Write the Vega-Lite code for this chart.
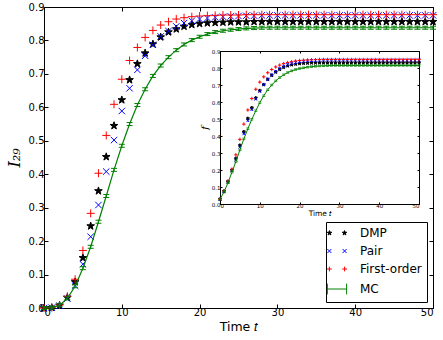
{
"$schema": "https://vega.github.io/schema/vega-lite/v6.json",
"width": 389, "height": 301,
"autosize": {"type": "none"},
"padding": {"left": 44, "top": 7, "right": 10, "bottom": 32},
"datasets": {
"main": [
{"t":0,"DMP":0,"Pair":0,"First-order":0,"MC":0},
{"t":1,"DMP":0.001,"Pair":0.001,"First-order":0.001,"MC":0.001},
{"t":2,"DMP":0.008,"Pair":0.007,"First-order":0.009,"MC":0.008},
{"t":3,"DMP":0.031,"Pair":0.028,"First-order":0.035,"MC":0.029},
{"t":4,"DMP":0.078,"Pair":0.067,"First-order":0.086,"MC":0.065},
{"t":5,"DMP":0.150,"Pair":0.131,"First-order":0.172,"MC":0.119},
{"t":6,"DMP":0.245,"Pair":0.213,"First-order":0.283,"MC":0.183},
{"t":7,"DMP":0.350,"Pair":0.308,"First-order":0.403,"MC":0.258},
{"t":8,"DMP":0.452,"Pair":0.408,"First-order":0.516,"MC":0.335},
{"t":9,"DMP":0.545,"Pair":0.502,"First-order":0.609,"MC":0.413},
{"t":10,"DMP":0.622,"Pair":0.589,"First-order":0.684,"MC":0.485},
{"t":11,"DMP":0.682,"Pair":0.657,"First-order":0.740,"MC":0.550},
{"t":12,"DMP":0.730,"Pair":0.712,"First-order":0.779,"MC":0.607},
{"t":13,"DMP":0.762,"Pair":0.754,"First-order":0.809,"MC":0.654},
{"t":14,"DMP":0.789,"Pair":0.787,"First-order":0.830,"MC":0.694},
{"t":15,"DMP":0.810,"Pair":0.812,"First-order":0.846,"MC":0.725},
{"t":16,"DMP":0.825,"Pair":0.828,"First-order":0.856,"MC":0.750},
{"t":17,"DMP":0.834,"Pair":0.842,"First-order":0.864,"MC":0.771},
{"t":18,"DMP":0.842,"Pair":0.852,"First-order":0.868,"MC":0.788},
{"t":19,"DMP":0.847,"Pair":0.859,"First-order":0.871,"MC":0.801},
{"t":20,"DMP":0.850,"Pair":0.864,"First-order":0.873,"MC":0.811},
{"t":21,"DMP":0.852,"Pair":0.867,"First-order":0.874,"MC":0.819},
{"t":22,"DMP":0.853,"Pair":0.869,"First-order":0.875,"MC":0.825},
{"t":23,"DMP":0.854,"Pair":0.871,"First-order":0.876,"MC":0.829},
{"t":24,"DMP":0.855,"Pair":0.872,"First-order":0.876,"MC":0.832},
{"t":25,"DMP":0.855,"Pair":0.873,"First-order":0.876,"MC":0.834},
{"t":26,"DMP":0.855,"Pair":0.874,"First-order":0.877,"MC":0.836},
{"t":27,"DMP":0.856,"Pair":0.874,"First-order":0.877,"MC":0.837},
{"t":28,"DMP":0.856,"Pair":0.875,"First-order":0.877,"MC":0.838},
{"t":29,"DMP":0.856,"Pair":0.875,"First-order":0.877,"MC":0.838},
{"t":30,"DMP":0.856,"Pair":0.875,"First-order":0.877,"MC":0.838},
{"t":31,"DMP":0.856,"Pair":0.875,"First-order":0.877,"MC":0.838},
{"t":32,"DMP":0.856,"Pair":0.875,"First-order":0.877,"MC":0.838},
{"t":33,"DMP":0.856,"Pair":0.875,"First-order":0.877,"MC":0.838},
{"t":34,"DMP":0.856,"Pair":0.875,"First-order":0.877,"MC":0.838},
{"t":35,"DMP":0.856,"Pair":0.875,"First-order":0.877,"MC":0.838},
{"t":36,"DMP":0.856,"Pair":0.875,"First-order":0.877,"MC":0.838},
{"t":37,"DMP":0.856,"Pair":0.875,"First-order":0.877,"MC":0.838},
{"t":38,"DMP":0.856,"Pair":0.875,"First-order":0.877,"MC":0.838},
{"t":39,"DMP":0.856,"Pair":0.875,"First-order":0.877,"MC":0.838},
{"t":40,"DMP":0.856,"Pair":0.875,"First-order":0.877,"MC":0.838},
{"t":41,"DMP":0.856,"Pair":0.875,"First-order":0.877,"MC":0.838},
{"t":42,"DMP":0.856,"Pair":0.875,"First-order":0.877,"MC":0.838},
{"t":43,"DMP":0.856,"Pair":0.875,"First-order":0.877,"MC":0.838},
{"t":44,"DMP":0.856,"Pair":0.875,"First-order":0.877,"MC":0.838},
{"t":45,"DMP":0.856,"Pair":0.875,"First-order":0.877,"MC":0.838},
{"t":46,"DMP":0.856,"Pair":0.875,"First-order":0.877,"MC":0.838},
{"t":47,"DMP":0.856,"Pair":0.875,"First-order":0.877,"MC":0.838},
{"t":48,"DMP":0.856,"Pair":0.875,"First-order":0.877,"MC":0.838},
{"t":49,"DMP":0.856,"Pair":0.875,"First-order":0.877,"MC":0.838},
{"t":50,"DMP":0.856,"Pair":0.875,"First-order":0.877,"MC":0.838}
],
"inset": [
{"t":0,"DMP":0.028,"Pair":0.028,"First-order":0.030,"MC":0.028},
{"t":1,"DMP":0.075,"Pair":0.074,"First-order":0.077,"MC":0.070},
{"t":2,"DMP":0.131,"Pair":0.130,"First-order":0.136,"MC":0.125},
{"t":3,"DMP":0.198,"Pair":0.195,"First-order":0.205,"MC":0.187},
{"t":4,"DMP":0.268,"Pair":0.258,"First-order":0.289,"MC":0.250},
{"t":5,"DMP":0.345,"Pair":0.335,"First-order":0.380,"MC":0.318},
{"t":6,"DMP":0.425,"Pair":0.413,"First-order":0.470,"MC":0.383},
{"t":7,"DMP":0.503,"Pair":0.490,"First-order":0.553,"MC":0.443},
{"t":8,"DMP":0.566,"Pair":0.555,"First-order":0.620,"MC":0.498},
{"t":9,"DMP":0.624,"Pair":0.617,"First-order":0.675,"MC":0.549},
{"t":10,"DMP":0.667,"Pair":0.662,"First-order":0.717,"MC":0.596},
{"t":11,"DMP":0.702,"Pair":0.702,"First-order":0.748,"MC":0.637},
{"t":12,"DMP":0.733,"Pair":0.735,"First-order":0.772,"MC":0.672},
{"t":13,"DMP":0.757,"Pair":0.760,"First-order":0.791,"MC":0.700},
{"t":14,"DMP":0.776,"Pair":0.780,"First-order":0.806,"MC":0.724},
{"t":15,"DMP":0.792,"Pair":0.797,"First-order":0.817,"MC":0.744},
{"t":16,"DMP":0.804,"Pair":0.810,"First-order":0.826,"MC":0.760},
{"t":17,"DMP":0.813,"Pair":0.821,"First-order":0.832,"MC":0.773},
{"t":18,"DMP":0.819,"Pair":0.828,"First-order":0.837,"MC":0.783},
{"t":19,"DMP":0.823,"Pair":0.833,"First-order":0.841,"MC":0.791},
{"t":20,"DMP":0.826,"Pair":0.837,"First-order":0.844,"MC":0.797},
{"t":21,"DMP":0.828,"Pair":0.840,"First-order":0.846,"MC":0.801},
{"t":22,"DMP":0.829,"Pair":0.842,"First-order":0.847,"MC":0.805},
{"t":23,"DMP":0.830,"Pair":0.844,"First-order":0.848,"MC":0.808},
{"t":24,"DMP":0.830,"Pair":0.845,"First-order":0.849,"MC":0.810},
{"t":25,"DMP":0.831,"Pair":0.846,"First-order":0.850,"MC":0.812},
{"t":26,"DMP":0.831,"Pair":0.847,"First-order":0.850,"MC":0.813},
{"t":27,"DMP":0.831,"Pair":0.847,"First-order":0.850,"MC":0.814},
{"t":28,"DMP":0.831,"Pair":0.847,"First-order":0.850,"MC":0.815},
{"t":29,"DMP":0.831,"Pair":0.847,"First-order":0.850,"MC":0.815},
{"t":30,"DMP":0.831,"Pair":0.847,"First-order":0.850,"MC":0.815},
{"t":31,"DMP":0.831,"Pair":0.847,"First-order":0.850,"MC":0.815},
{"t":32,"DMP":0.831,"Pair":0.847,"First-order":0.850,"MC":0.815},
{"t":33,"DMP":0.831,"Pair":0.847,"First-order":0.850,"MC":0.815},
{"t":34,"DMP":0.831,"Pair":0.847,"First-order":0.850,"MC":0.815},
{"t":35,"DMP":0.831,"Pair":0.847,"First-order":0.850,"MC":0.815},
{"t":36,"DMP":0.831,"Pair":0.847,"First-order":0.850,"MC":0.815},
{"t":37,"DMP":0.831,"Pair":0.847,"First-order":0.850,"MC":0.815},
{"t":38,"DMP":0.831,"Pair":0.847,"First-order":0.850,"MC":0.815},
{"t":39,"DMP":0.831,"Pair":0.847,"First-order":0.850,"MC":0.815},
{"t":40,"DMP":0.831,"Pair":0.847,"First-order":0.850,"MC":0.815},
{"t":41,"DMP":0.831,"Pair":0.847,"First-order":0.850,"MC":0.815},
{"t":42,"DMP":0.831,"Pair":0.847,"First-order":0.850,"MC":0.815},
{"t":43,"DMP":0.831,"Pair":0.847,"First-order":0.850,"MC":0.815},
{"t":44,"DMP":0.831,"Pair":0.847,"First-order":0.850,"MC":0.815},
{"t":45,"DMP":0.831,"Pair":0.847,"First-order":0.850,"MC":0.815},
{"t":46,"DMP":0.831,"Pair":0.847,"First-order":0.850,"MC":0.815},
{"t":47,"DMP":0.831,"Pair":0.847,"First-order":0.850,"MC":0.815},
{"t":48,"DMP":0.831,"Pair":0.847,"First-order":0.850,"MC":0.815},
{"t":49,"DMP":0.831,"Pair":0.847,"First-order":0.850,"MC":0.815},
{"t":50,"DMP":0.831,"Pair":0.847,"First-order":0.850,"MC":0.815}
]
},
"layer": [
{
"data": {"name": "main"},
"layer": [
{
"transform": [{"fold": ["DMP","Pair","First-order"], "as": ["series","value"]}],
"mark": {"type": "point", "filled": false, "size": 64, "strokeWidth": 1, "opacity": 1},
"encoding": {
"x": {"field": "t", "type": "quantitative", "scale": {"domain": [0,50], "nice": false},
"axis": {"orient": "bottom", "values": [0,10,20,30,40,50], "title": "Time 𝑡", "labelFontSize": 10, "titleFontSize": 12.5, "tickSize": -4, "labelPadding": 3, "titlePadding": 3, "domain": false}},
"y": {"field": "value", "type": "quantitative", "scale": {"domain": [0,0.9], "nice": false},
"axis": {"orient": "left", "values": [0,0.1,0.2,0.3,0.4,0.5,0.6,0.7,0.8,0.9], "format": ".1f", "title": "I₂₉", "titleFont": "DejaVu Serif", "titleFontStyle": "italic", "titleFontSize": 16, "labelFontSize": 10, "tickSize": -4, "labelPadding": 4, "titlePadding": 6, "domain": false}},
"color": {"field": "series", "type": "nominal",
"scale": {"domain": ["DMP","Pair","First-order","MC"], "range": ["#000000","#0000ff","#ff0000","#008000"]},
"legend": null},
"shape": {"field": "series", "type": "nominal",
"scale": {"domain": ["DMP","Pair","First-order"], "range": ["M0,-1L0.235,-0.324L0.951,-0.309L0.38,0.124L0.588,0.809L0,0.4L-0.588,0.809L-0.38,0.124L-0.951,-0.309L-0.235,-0.324Z","M-0.8,-0.8L0.8,0.8M-0.8,0.8L0.8,-0.8","M-1,0H1M0,-1V1"]},
"legend": null},
"fill": {"condition": {"test": "datum.series==='DMP'", "value": "#000000"}, "value": "transparent"}
}
},
{
"mark": {"type": "line", "strokeWidth": 1.2, "stroke": "#008000"},
"encoding": {
"x": {"field": "t", "type": "quantitative", "scale": {"domain": [0,50], "nice": false},
"axis": {"orient": "top", "values": [0,10,20,30,40,50], "labels": false, "title": null, "tickSize": -4, "domain": false}},
"y": {"field": "MC", "type": "quantitative", "scale": {"domain": [0,0.9], "nice": false},
"axis": {"orient": "right", "values": [0,0.1,0.2,0.3,0.4,0.5,0.6,0.7,0.8,0.9], "labels": false, "title": null, "tickSize": -4, "domain": false}}
}
},
{
"mark": {"type": "point", "shape": "M-1,-0.5H1M-1,0.5H1M0,-0.5V0.5", "size": 36, "filled": false, "stroke": "#008000", "strokeWidth": 1, "opacity": 1},
"encoding": {
"x": {"field": "t", "type": "quantitative", "scale": {"domain": [0,50], "nice": false}, "axis": null},
"y": {"field": "MC", "type": "quantitative", "scale": {"domain": [0,0.9], "nice": false}, "axis": null}
}
}
],
"resolve": {"axis": {"x": "independent", "y": "independent"}}
},
{
"data": {"name": "inset"},
"layer": [
{
"transform": [{"fold": ["DMP","Pair","First-order"], "as": ["series","value"]}],
"mark": {"type": "point", "filled": false, "size": 12, "strokeWidth": 1, "opacity": 1},
"encoding": {
"x": {"field": "t", "type": "quantitative", "scale": {"domain": [0,50], "nice": false, "range": [176,375]},
"axis": {"orient": "bottom", "offset": -104, "values": [0,10,20,30,40,50], "title": "Time 𝑡", "labelFontSize": 5.5, "titleFontSize": 7.5, "tickSize": -2, "labelPadding": 1, "titlePadding": 1, "domain": true, "domainColor": "#000000"}},
"y": {"field": "value", "type": "quantitative", "scale": {"domain": [0,0.9], "nice": false, "range": [197,44]},
"axis": {"orient": "left", "offset": -176, "values": [0,0.1,0.2,0.3,0.4,0.5,0.6,0.7,0.8,0.9], "format": ".1f", "title": "f", "titleFont": "DejaVu Serif", "titleFontStyle": "italic", "titleFontSize": 10, "labelFontSize": 5.5, "tickSize": -2, "labelPadding": 2, "titlePadding": 2, "domain": true, "domainColor": "#000000"}},
"color": {"field": "series", "type": "nominal",
"scale": {"domain": ["DMP","Pair","First-order","MC"], "range": ["#000000","#0000ff","#ff0000","#008000"]},
"legend": null},
"shape": {"field": "series", "type": "nominal",
"scale": {"domain": ["DMP","Pair","First-order"], "range": ["M0,-1L0.235,-0.324L0.951,-0.309L0.38,0.124L0.588,0.809L0,0.4L-0.588,0.809L-0.38,0.124L-0.951,-0.309L-0.235,-0.324Z","M-0.8,-0.8L0.8,0.8M-0.8,0.8L0.8,-0.8","M-1,0H1M0,-1V1"]},
"legend": null},
"fill": {"condition": {"test": "datum.series==='DMP'", "value": "#000000"}, "value": "transparent"}
}
},
{
"mark": {"type": "line", "strokeWidth": 1, "stroke": "#008000"},
"encoding": {
"x": {"field": "t", "type": "quantitative", "scale": {"domain": [0,50], "nice": false, "range": [176,375]},
"axis": {"orient": "top", "offset": -44, "values": [0,10,20,30,40,50], "labels": false, "title": null, "tickSize": -2, "domain": true, "domainColor": "#000000"}},
"y": {"field": "MC", "type": "quantitative", "scale": {"domain": [0,0.9], "nice": false, "range": [197,44]},
"axis": {"orient": "right", "offset": -14, "values": [0,0.1,0.2,0.3,0.4,0.5,0.6,0.7,0.8,0.9], "labels": false, "title": null, "tickSize": -2, "domain": true, "domainColor": "#000000"}}
}
},
{
"mark": {"type": "point", "shape": "M-1,-0.5H1M-1,0.5H1", "size": 9, "filled": false, "stroke": "#008000", "strokeWidth": 0.8, "opacity": 1},
"encoding": {
"x": {"field": "t", "type": "quantitative", "scale": {"domain": [0,50], "nice": false, "range": [176,375]}, "axis": null},
"y": {"field": "MC", "type": "quantitative", "scale": {"domain": [0,0.9], "nice": false, "range": [197,44]}, "axis": null}
}
}
],
"resolve": {"axis": {"x": "independent", "y": "independent"}}
},
{
"data": {"name": "main"},
"transform": [{"fold": ["DMP","Pair","First-order","MC"], "as": ["series","value"]}, {"filter": "datum.t < 0"}],
"mark": {"type": "point", "filled": false, "size": 64, "strokeWidth": 1, "opacity": 1},
"encoding": {
"x": {"field": "t", "type": "quantitative", "scale": {"domain": [0,50]}, "axis": null},
"y": {"field": "value", "type": "quantitative", "scale": {"domain": [0,0.9]}, "axis": null},
"color": {"field": "series", "type": "nominal",
"scale": {"domain": ["DMP","Pair","First-order","MC"], "range": ["#000000","#0000ff","#ff0000","#008000"]},
"legend": {"title": null}},
"fill": {"field": "series", "type": "nominal",
"scale": {"domain": ["DMP","Pair","First-order","MC"], "range": ["#000000","transparent","transparent","transparent"]},
"legend": {"title": null}},
"shape": {"field": "series", "type": "nominal",
"scale": {"domain": ["DMP","Pair","First-order","MC"], "range": [
"M-1.875,-0.6L-1.734,-0.194L-1.304,-0.185L-1.647,0.074L-1.522,0.485L-1.875,0.24L-2.228,0.485L-2.103,0.074L-2.446,-0.185L-2.016,-0.194ZM1.875,-0.6L2.016,-0.194L2.446,-0.185L2.103,0.074L2.228,0.485L1.875,0.24L1.522,0.485L1.647,0.074L1.304,-0.185L1.734,-0.194Z",
"M-2.4,-0.5L-1.4,0.5M-2.4,0.5L-1.4,-0.5M1.4,-0.5L2.4,0.5M1.4,0.5L2.4,-0.5",
"M-2.5,0H-1.3M-1.9,-0.6V0.6M1.3,0H2.5M1.9,-0.6V0.6",
"M-2.4,-1.35V1.35M-2.4,0H2.4M2.4,-1.35V1.35"]},
"legend": {"title": null}}
}
}
],
"resolve": {"scale": {"x": "independent", "y": "independent", "shape": "independent", "color": "independent", "fill": "independent"}},
"config": {
"font": "DejaVu Sans",
"view": {"stroke": "#000000", "strokeWidth": 1},
"axis": {"grid": false, "labelColor": "#000000", "tickColor": "#000000", "titleColor": "#000000", "titleFontWeight": "normal", "labelFont": "DejaVu Sans", "titleFont": "DejaVu Sans"},
"legend": {"orient": "bottom-right", "offset": 6, "padding": 5, "strokeColor": "#000000", "fillColor": "#ffffff", "labelFontSize": 12, "labelColor": "#000000", "labelFont": "DejaVu Sans", "rowPadding": 6, "symbolSize": 64, "labelOffset": 17, "cornerRadius": 0, "symbolStrokeWidth": 1}
}
}
